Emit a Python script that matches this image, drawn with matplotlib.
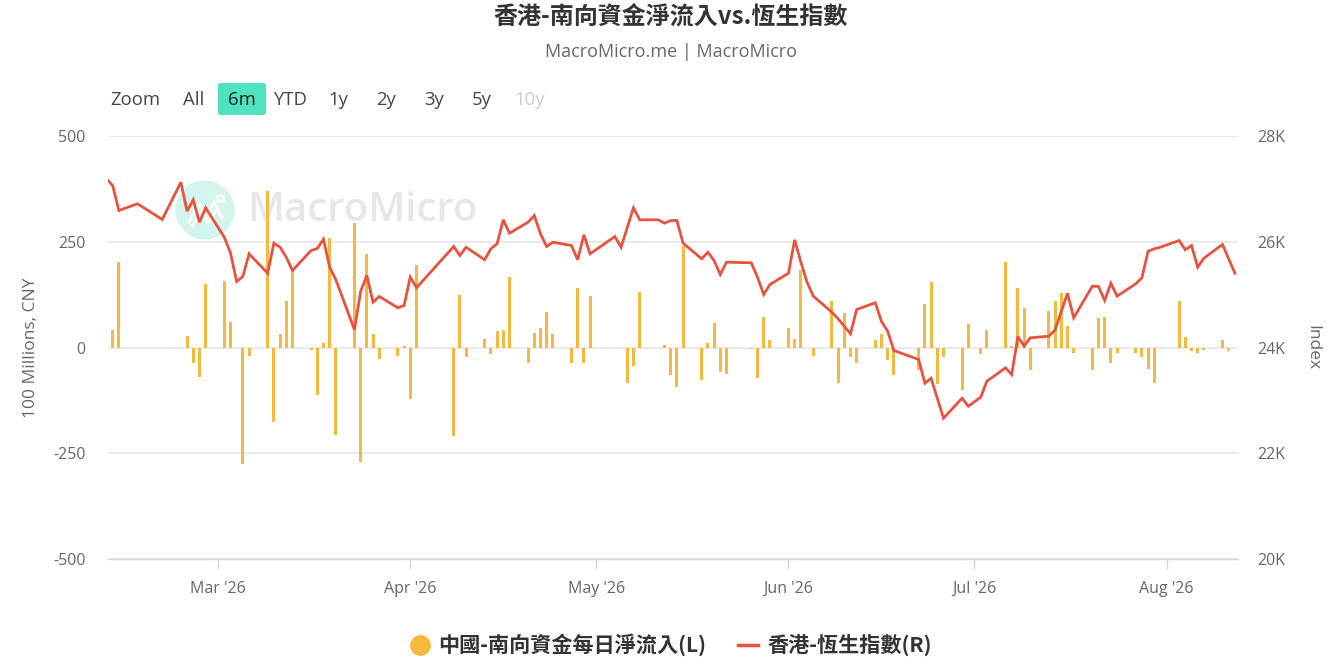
import matplotlib
matplotlib.use("Agg")
import matplotlib.pyplot as plt
from matplotlib.patches import FancyBboxPatch, Ellipse
from matplotlib.lines import Line2D
import pandas as pd

# ---------------- data ----------------
bar_dates = ['2026-02-12','2026-02-13','2026-02-24','2026-02-25','2026-02-26','2026-02-27','2026-03-02','2026-03-03','2026-03-05','2026-03-06',
             '2026-03-09','2026-03-10','2026-03-11','2026-03-12','2026-03-13','2026-03-16','2026-03-17','2026-03-18','2026-03-19','2026-03-20',
             '2026-03-23','2026-03-24','2026-03-25','2026-03-26','2026-03-27','2026-03-30','2026-03-31','2026-04-01','2026-04-02','2026-04-08',
             '2026-04-09','2026-04-10','2026-04-13','2026-04-14','2026-04-15','2026-04-16','2026-04-17','2026-04-20','2026-04-21','2026-04-22',
             '2026-04-23','2026-04-24','2026-04-27','2026-04-28','2026-04-29','2026-04-30','2026-05-06','2026-05-07','2026-05-08','2026-05-12',
             '2026-05-13','2026-05-14','2026-05-15','2026-05-18','2026-05-19','2026-05-20','2026-05-21','2026-05-22','2026-05-26','2026-05-27',
             '2026-05-28','2026-05-29','2026-06-01','2026-06-02','2026-06-03','2026-06-05','2026-06-08','2026-06-09','2026-06-10','2026-06-11',
             '2026-06-12','2026-06-15','2026-06-16','2026-06-17','2026-06-18','2026-06-22','2026-06-23','2026-06-24','2026-06-25','2026-06-26',
             '2026-06-29','2026-06-30','2026-07-02','2026-07-03','2026-07-06','2026-07-07','2026-07-08','2026-07-09','2026-07-10','2026-07-13',
             '2026-07-14','2026-07-15','2026-07-16','2026-07-17','2026-07-20','2026-07-21','2026-07-22','2026-07-23','2026-07-24','2026-07-27',
             '2026-07-28','2026-07-29','2026-07-30','2026-07-31','2026-08-03','2026-08-04','2026-08-05','2026-08-06','2026-08-07','2026-08-10',
             '2026-08-11']
bar_values = [42, 202, 28, -37, -70, 149, 158, 60, -275, -20,
              369, -177, 32, 109, 186, -7, -112, 10, 259, -208,
              294, -271, 220, 32, -28, -20, 3, -121, 194, -210,
              125, -23, 20, -15, 39, 42, 166, -37, 35, 45,
              85, 31, -37, 141, -37, 121, -83, -44, 131, 6,
              -66, -94, 241, -76, 10, 57, -58, -62, -3, -73,
              73, 17, 46, 20, 184, -19, 109, -83, 81, -23,
              -37, 17, 31, -29, -66, -54, 103, 154, -86, -23,
              -100, 56, -15, 42, 202, 3, 141, 94, -54, 87,
              109, 129, 50, -13, -54, 70, 73, -37, -13, -13,
              -23, -50, -84, -2, 109, 24, -9, -13, -6, 17, -9]

line_dates = ['2026-02-11','2026-02-12','2026-02-13','2026-02-16','2026-02-20','2026-02-23','2026-02-24','2026-02-25','2026-02-26','2026-02-27',
              '2026-03-02','2026-03-03','2026-03-04','2026-03-05','2026-03-06','2026-03-09','2026-03-10','2026-03-11','2026-03-12','2026-03-13',
              '2026-03-16','2026-03-17','2026-03-18','2026-03-19','2026-03-20','2026-03-23','2026-03-24','2026-03-25','2026-03-26','2026-03-27',
              '2026-03-30','2026-03-31','2026-04-01','2026-04-02','2026-04-08','2026-04-09','2026-04-10','2026-04-13','2026-04-14','2026-04-15',
              '2026-04-16','2026-04-17','2026-04-20','2026-04-21','2026-04-22','2026-04-23','2026-04-24','2026-04-27','2026-04-28','2026-04-29',
              '2026-04-30','2026-05-04','2026-05-05','2026-05-07','2026-05-08','2026-05-11','2026-05-12','2026-05-13','2026-05-14','2026-05-15',
              '2026-05-18','2026-05-19','2026-05-20','2026-05-21','2026-05-22','2026-05-26','2026-05-27','2026-05-28','2026-05-29','2026-06-01',
              '2026-06-02','2026-06-03','2026-06-04','2026-06-05','2026-06-08','2026-06-09','2026-06-11','2026-06-12','2026-06-15','2026-06-16',
              '2026-06-17','2026-06-18','2026-06-22','2026-06-23','2026-06-24','2026-06-26','2026-06-29','2026-06-30','2026-07-02','2026-07-03',
              '2026-07-06','2026-07-07','2026-07-08','2026-07-09','2026-07-10','2026-07-13','2026-07-14','2026-07-16','2026-07-17','2026-07-20',
              '2026-07-21','2026-07-22','2026-07-23','2026-07-24','2026-07-27','2026-07-28','2026-07-29','2026-07-30','2026-07-31','2026-08-03',
              '2026-08-04','2026-08-05','2026-08-06','2026-08-07','2026-08-10','2026-08-12']
line_values = [27190, 27064, 26591, 26718, 26421, 27126, 26578, 26793, 26370, 26642,
               26086, 25791, 25248, 25343, 25772, 25405, 25973, 25897, 25708, 25456,
               25834, 25872, 26048, 25519, 25280, 24334, 25065, 25362, 24857, 24965,
               24751, 24794, 25330, 25129, 25910, 25740, 25897, 25659, 25867, 25961,
               26415, 26162, 26370, 26496, 26150, 25910, 25991, 25929, 25659, 26131,
               25772, 26099, 25897, 26642, 26415, 26415, 26351, 26402, 26402, 25973,
               25678, 25802, 25645, 25380, 25614, 25602, 25330, 25002, 25191, 25405,
               26036, 25614, 25235, 24971, 24668, 24543, 24259, 24719, 24845, 24492,
               24308, 23943, 23773, 23325, 23419, 22663, 23041, 22890, 23060, 23363,
               23616, 23489, 24208, 24025, 24183, 24214, 24334, 25027, 24562, 25159,
               25154, 24889, 25216, 24971, 25204, 25318, 25821, 25867, 25897, 26024,
               25848, 25929, 25519, 25689, 25948, 25405]

left_ticks = [-500, -250, 0, 250, 500]
left_ticklabels = ['-500', '-250', '0', '250', '500']
right_ticks = [20000, 22000, 24000, 26000, 28000]
right_ticklabels = ['20K', '22K', '24K', '26K', '28K']
month_ticks = ['2026-03-01', '2026-04-01', '2026-05-01', '2026-06-01', '2026-07-01', '2026-08-01']
month_labels = ["Mar '26", "Apr '26", "May '26", "Jun '26", "Jul '26", "Aug '26"]

title = '香港-南向資金淨流入vs.恆生指數'
subtitle = 'MacroMicro.me | MacroMicro'
bar_name = '中國-南向資金每日淨流入(L)'
line_name = '香港-恆生指數(R)'
buttons = ['All', '6m', 'YTD', '1y', '2y', '3y', '5y', '10y']

# ---------------- style ----------------
LATIN = ['Open Sans', 'Noto Sans CJK TC', 'DejaVu Sans']
CJK = ['Noto Sans CJK TC', 'DejaVu Sans']
plt.rcParams['font.family'] = LATIN
BAR_C = '#F7B93D'
LINE_C = '#E8533F'
GRID_C = '#E6E6E6'
TXT_C = '#666666'

W, H = 1329, 671
fig = plt.figure(figsize=(W / 100, H / 100), dpi=100)
fig.patch.set_facecolor('white')

L, R, T, B = 108, 1238, 136, 559
ax = fig.add_axes([L / W, 1 - B / H, (R - L) / W, (B - T) / H])
ax2 = ax.twinx()

bd = pd.to_datetime(bar_dates)
ld = pd.to_datetime(line_dates)

ax.bar(bd, bar_values, width=0.5, color=BAR_C, zorder=3)
ax2.plot(ld, line_values, color=LINE_C, lw=2.0, zorder=4, solid_joinstyle='miter')

ax.set_ylim(-500, 500)
ax2.set_ylim(20000, 28000)
ax.set_xlim(pd.Timestamp('2026-02-11 06:00'), pd.Timestamp('2026-08-12 12:00'))

ax.set_yticks(left_ticks)
ax.set_yticklabels(left_ticklabels)
ax2.set_yticks(right_ticks)
ax2.set_yticklabels(right_ticklabels)
ax.set_xticks(pd.to_datetime(month_ticks))
ax.set_xticklabels(month_labels)

ax.grid(axis='y', color=GRID_C, lw=1.2, zorder=0)
ax.set_axisbelow(True)
for a in (ax, ax2):
    for s in ('top', 'left', 'right'):
        a.spines[s].set_visible(False)
ax2.spines['bottom'].set_visible(False)
ax.spines['bottom'].set_color('#CCD6EB')
ax.spines['bottom'].set_linewidth(1.0)

ax.tick_params(axis='y', length=0, pad=16, labelsize=11.5, labelcolor=TXT_C)
ax2.tick_params(axis='y', length=0, pad=14, labelsize=11.5, labelcolor=TXT_C)
ax.tick_params(axis='x', length=7, width=1, color='#CCD6EB', pad=9, labelsize=11.5, labelcolor=TXT_C)

ax.set_ylabel('100 Millions, CNY', fontsize=12.5, color=TXT_C)
ax.yaxis.set_label_coords((39 - L) / (R - L), 0.5)
ax2.set_ylabel('Index', fontsize=12.5, color=TXT_C, rotation=270, va='center')
ax2.yaxis.set_label_coords((1312 - L) / (R - L), 0.5)

# ---------------- watermark ----------------
cx, cy = 205, 210
ax.add_artist(Ellipse((cx / W, 1 - cy / H), 58 / W, 58 / H, transform=fig.transFigure,
                      color='#D4F5EE', zorder=1))
icon_x = [-16, -6, 2, 9, 17]
icon_y = [12, -6, 6, -8, 8]
ax.add_artist(Line2D([(cx + dx) / W for dx in icon_x], [1 - (cy + dy) / H for dy in icon_y],
                     color='white', lw=2.2, transform=fig.transFigure, zorder=1.5))
icon_x2 = [-12, -4, 4, 10]
icon_y2 = [15, 3, 13, 2]
ax.add_artist(Line2D([(cx + dx) / W for dx in icon_x2], [1 - (cy + dy) / H for dy in icon_y2],
                     color='white', lw=2.2, transform=fig.transFigure, zorder=1.5))
ax.add_artist(Line2D([(cx + 15) / W], [1 - (cy - 12) / H], marker='o', markersize=5,
                     markerfacecolor='none', markeredgecolor='white', markeredgewidth=1.8,
                     transform=fig.transFigure, zorder=1.5))
ax.text(247 / W, 1 - 211 / H, 'MacroMicro', transform=fig.transFigure, fontsize=29,
        color='#E6E7E9', fontweight='semibold', ha='left', va='center', zorder=1,
        family=['Open Sans', 'DejaVu Sans'])

# ---------------- titles ----------------
fig.text(671 / W, 1 - 18 / H, title, ha='center', va='center', fontsize=17.3,
         fontweight='bold', color='#333333', family=CJK)
fig.text(671 / W, 1 - 52 / H, subtitle, ha='center', va='center', fontsize=13,
         color=TXT_C)

# ---------------- range selector ----------------
fig.text(135 / W, 1 - 100 / H, 'Zoom', ha='center', va='center', fontsize=13.3, color='#444444')
btn_x = [194, 242, 290, 338, 386, 434, 482, 530]
fig.add_artist(FancyBboxPatch((218 / W, 1 - 115 / H), 48 / W, 32 / H,
                              boxstyle='round,pad=0,rounding_size=0.003',
                              transform=fig.transFigure, facecolor='#4FE3C1',
                              edgecolor='none', zorder=0))
for lbl, x in zip(buttons, btn_x):
    c = '#CCCCCC' if lbl == '10y' else ('#222222' if lbl == '6m' else '#444444')
    fig.text(x / W, 1 - 100 / H, lbl, ha='center', va='center', fontsize=13.3, color=c)

# ---------------- legend ----------------
fig.add_artist(Line2D([420 / W], [1 - 645 / H], marker='o', markersize=14,
                      color=BAR_C, transform=fig.transFigure, lw=0))
fig.text(438 / W, 1 - 645 / H, bar_name, ha='left', va='center', fontsize=15.2,
         fontweight='bold', color='#333333', family=CJK)
fig.add_artist(Line2D([738 / W, 758 / W], [1 - 645 / H, 1 - 645 / H], color=LINE_C,
                      lw=2.5, transform=fig.transFigure))
fig.text(768 / W, 1 - 645 / H, line_name, ha='left', va='center', fontsize=15.2,
         fontweight='bold', color='#333333', family=CJK)

fig.savefig('out.png', dpi=100, facecolor='white')
